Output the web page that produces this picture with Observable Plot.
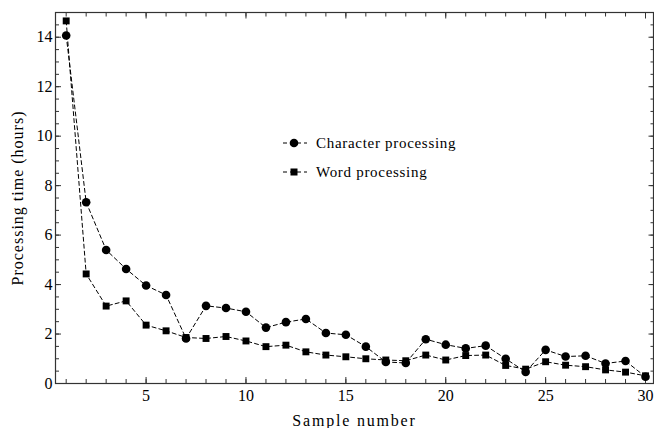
<!DOCTYPE html>
<html>
<head>
<meta charset="utf-8">
<script src="https://cdn.jsdelivr.net/npm/d3@7"></script>
<script src="https://cdn.jsdelivr.net/npm/@observablehq/plot@0.6"></script>
<style>
  html, body { margin: 0; padding: 0; background: #fff; }
  #wrap { position: relative; width: 654px; height: 428px; font-family: "Liberation Serif", serif; }
  #legend { position: absolute; left: 282px; top: 132px; font-size: 15px; letter-spacing: 0.7px; color: #000; }
  #legend .row { display: flex; align-items: center; height: 22px; margin-bottom: 7px; }
  #legend svg { margin-right: 8px; }
  g[aria-label="x-axis label"] text { letter-spacing: 1.8px; }
  g[aria-label="y-axis label"] text { letter-spacing: 1.0px; }
  svg text { font-family: "Liberation Serif", serif; }
</style>
</head>
<body>
<div id="wrap"></div>
<script>
const samples = d3.range(1, 31);
const characterHours = [14.07, 7.33, 5.40, 4.63, 3.96, 3.58, 1.82, 3.14, 3.05, 2.90,
  2.26, 2.48, 2.61, 2.04, 1.97, 1.49, 0.87, 0.83, 1.79, 1.57,
  1.42, 1.53, 1.00, 0.47, 1.36, 1.09, 1.12, 0.81, 0.91, 0.27];
const wordHours = [14.66, 4.43, 3.13, 3.34, 2.36, 2.13, 1.86, 1.82, 1.90, 1.72,
  1.49, 1.55, 1.28, 1.15, 1.08, 1.00, 0.95, 0.92, 1.15, 0.95,
  1.13, 1.15, 0.73, 0.58, 0.88, 0.74, 0.68, 0.55, 0.46, 0.31];
const seriesNames = ["Character processing", "Word processing"];
const xMajor = [5, 10, 15, 20, 25, 30];
const yMajor = [0, 2, 4, 6, 8, 10, 12, 14];

const charData = samples.map((s, i) => ({sample: s, hours: characterHours[i]}));
const wordData = samples.map((s, i) => ({sample: s, hours: wordHours[i]}));
const xMinor = samples;
const yMinor = d3.range(0, 15.01, 0.5);
const blank = () => "";
const frameColor = "#333";

const chart = Plot.plot({
  width: 654,
  height: 428,
  marginLeft: 55,
  marginRight: 1,
  marginTop: 12,
  marginBottom: 45,
  x: {domain: [0.465, 30.4]},
  y: {domain: [0, 15]},
  style: {fontFamily: "Liberation Serif", fontSize: "16px", color: "#000", background: "#fff", overflow: "visible"},
  marks: [
    Plot.frame({stroke: frameColor, strokeWidth: 1.2}),
    // inward minor ticks on all four sides
    Plot.axisX({ticks: xMinor, tickSize: -4, tickFormat: blank, label: null, stroke: frameColor}),
    Plot.axisX({anchor: "top", ticks: xMinor, tickSize: -3.5, tickFormat: blank, label: null, stroke: frameColor}),
    Plot.axisY({ticks: yMinor, tickSize: -4, tickFormat: blank, label: null, stroke: frameColor}),
    Plot.axisY({anchor: "right", ticks: yMinor, tickSize: -3.5, tickFormat: blank, label: null, stroke: frameColor}),
    // major ticks slightly longer
    Plot.axisX({ticks: xMajor, tickSize: -6, tickFormat: blank, label: null, stroke: frameColor}),
    Plot.axisX({anchor: "top", ticks: xMajor, tickSize: -5.5, tickFormat: blank, label: null, stroke: frameColor}),
    Plot.axisY({ticks: yMajor, tickSize: -6, tickFormat: blank, label: null, stroke: frameColor}),
    Plot.axisY({anchor: "right", ticks: yMajor, tickSize: -5.5, tickFormat: blank, label: null, stroke: frameColor}),
    // labels
    Plot.axisX({ticks: xMajor, tickSize: 0, tickPadding: 6, label: "Sample number", labelAnchor: "center", labelArrow: "none", labelOffset: 42}),
    Plot.axisY({ticks: yMajor, tickSize: 0, tickPadding: 3, label: "Processing time (hours)", labelAnchor: "center", labelArrow: "none", labelOffset: 44}),
    // series
    Plot.line(charData, {x: "sample", y: "hours", stroke: "#000", strokeWidth: 1, strokeDasharray: "4,3"}),
    Plot.line(wordData, {x: "sample", y: "hours", stroke: "#000", strokeWidth: 1, strokeDasharray: "4,3"}),
    Plot.dot(charData, {x: "sample", y: "hours", fill: "#000", r: 4.3, symbol: "circle"}),
    Plot.dot(wordData, {x: "sample", y: "hours", fill: "#000", r: 3.9, symbol: "square"})
  ]
});

const wrap = document.getElementById("wrap");
wrap.appendChild(chart);

const legend = document.createElement("div");
legend.id = "legend";
const symbols = ["circle", "square"];
seriesNames.forEach((name, i) => {
  const row = document.createElement("div");
  row.className = "row";
  const sym = symbols[i] === "circle"
    ? '<circle cx="12" cy="8" r="4.3" fill="#000"/>'
    : '<rect x="8.5" y="4.5" width="7" height="7" fill="#000"/>';
  row.innerHTML = `<svg width="26" height="16"><line x1="1" y1="8" x2="25" y2="8" stroke="#000" stroke-dasharray="4,3"/>${sym}</svg><span>${name}</span>`;
  legend.appendChild(row);
});
wrap.appendChild(legend);
</script>
</body>
</html>
